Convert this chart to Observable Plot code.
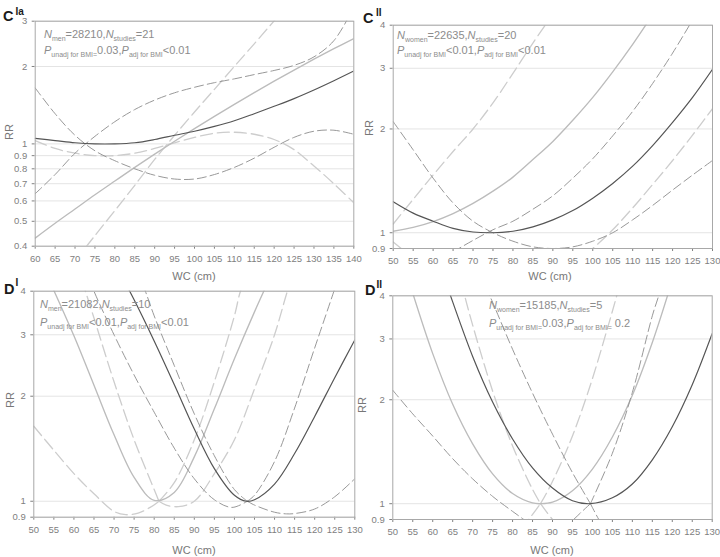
<!DOCTYPE html>
<html><head><meta charset="utf-8">
<script src="https://cdn.jsdelivr.net/npm/d3@7"></script>
<script src="https://cdn.jsdelivr.net/npm/@observablehq/plot@0.6"></script>
<style>
html,body{margin:0;padding:0;background:#fff;}
#root{position:relative;width:720px;height:557px;overflow:hidden;font-family:"Liberation Sans",Arial,sans-serif;background:#fff;}
.big{position:absolute;font-weight:bold;font-size:14.5px;line-height:14px;color:#1a1a1a;}
.sup{position:absolute;font-weight:bold;font-size:10px;line-height:10px;color:#1a1a1a;}
.ann{position:absolute;font-size:11px;line-height:11px;color:#8c8c8c;white-space:nowrap;}
.ann sub{font-size:7px;vertical-align:0;position:relative;top:3px;}
.ax{position:absolute;font-size:11px;line-height:11px;color:#777;font-weight:normal;white-space:nowrap;transform:translate(-50%,-50%);}
.ax.rr{transform:translate(-50%,-50%) rotate(-90deg);}
</style></head><body><div id="root"></div>
<script>
// ---------- tick labels ----------
const cIa_xticks = [60,65,70,75,80,85,90,95,100,105,110,115,120,125,130,135,140];
const cIa_yticks = [0.4,0.5,0.6,0.7,0.8,0.9,1,2,3];
const wc_xticks = [50,55,60,65,70,75,80,85,90,95,100,105,110,115,120,125,130];
const rr_yticks = [0.9,1,2,3,4];

// ---------- Panel C Ia (men) ----------
const cIa_wc = [60,65,70,75,80,85,90,95,100,105,110,115,120,125,130,135,140];
const cIa_adj = [1.05,1.03,1.01,1.0,1.0,1.01,1.04,1.08,1.12,1.17,1.23,1.31,1.40,1.50,1.62,1.76,1.92];
const cIa_adjCI1 = [0.64,0.76,0.92,1.07,1.22,1.36,1.48,1.58,1.66,1.73,1.79,1.86,1.93,2.02,2.18,2.52,3.4];
const cIa_adjCI2 = [1.65,1.31,1.08,0.94,0.86,0.80,0.755,0.73,0.73,0.76,0.81,0.88,0.97,1.06,1.12,1.13,1.09];
const cIa_unadj = [0.430,0.491,0.558,0.634,0.717,0.810,0.912,1.024,1.146,1.280,1.425,1.583,1.754,1.937,2.135,2.345,2.570];
const cIa_unadjCI2 = [1.03,0.96,0.92,0.90,0.90,0.92,0.96,1.01,1.06,1.10,1.11,1.09,1.04,0.95,0.82,0.70,0.59];
const cIa_wcSteep = [70,75,80,85,90,95,100,105,110,115,120,125];
const cIa_unadjCI1 = [0.35,0.44,0.55,0.69,0.87,1.08,1.33,1.63,2.0,2.45,3.01,3.7];

// ---------- Panel C II (women) ----------
const cII_wc = [50,55,60,65,70,75,80,85,90,95,100,105,110,115,120,125,130];
const cII_adj = [1.23,1.14,1.08,1.03,1.005,1.0,1.01,1.04,1.09,1.16,1.26,1.39,1.56,1.79,2.09,2.47,2.98];
const cII_adjCI1 = [2.1,1.74,1.44,1.22,1.08,1.0,0.945,0.91,0.9,0.91,0.945,1.0,1.09,1.2,1.33,1.47,1.62];
const cII_wcCI2 = [65,70,75,80,85,90,95,100,105,110,115,120,125];
const cII_adjCI2 = [0.88,0.95,1.02,1.08,1.17,1.28,1.44,1.64,1.91,2.25,2.71,3.32,4.14];
const cII_wcUn = [50,55,60,65,70,75,80,85,90,95,100,105,110,115];
const cII_unadj = [1.01,1.036,1.077,1.136,1.216,1.32,1.45,1.63,1.84,2.12,2.47,2.93,3.52,4.29];
const cII_wcUnCI1 = [50,55,60,65,70,75,80,85,90];
const cII_unadjCI1 = [1.06,1.25,1.47,1.72,2.0,2.38,2.9,3.55,4.3];
const cII_wcUnCI2 = [50,52,54,76,98,100,105,110,115,120,125,130];
const cII_unadjCI2 = [0.94,0.9,0.86,null,0.86,0.9,1.02,1.18,1.38,1.62,1.92,2.29];

// ---------- Panel D I (men) ----------
const dI_wcAdj = [70,75,80,85,90,95,100,103,105,110,115,120,125,130];
const dI_adj = [4.86,3.78,2.88,2.16,1.61,1.24,1.04,1.0,1.01,1.12,1.37,1.75,2.26,2.9];
const dI_wcUn = [55,60,65,70,75,80,85,90,95,100,105,108];
const dI_unadj = [4.02,2.98,2.15,1.55,1.17,1.006,1.06,1.34,1.84,2.56,3.49,4.16];
const dI_unHiL_wc = [62,65,70,75,80,81.2];
const dI_unHiL = [4.3,3.35,2.2,1.5,1.08,1.0];
const dI_unLoR_wc = [81.2,83,86,90,95,100,105,110,113.2,115];
const dI_unLoR = [1.0,0.975,0.965,1.0,1.2,1.5,2.1,3.0,4.0,4.6];
const dI_unLoL_wc = [50,55,60,65,70,72.9,76,79,81.2];
const dI_unLoL = [1.64,1.40,1.2,1.05,0.935,0.915,0.925,0.96,1.0];
const dI_unHiR_wc = [81.2,85,90,95,100,101.5,103];
const dI_unHiR = [1.0,1.13,1.5,2.2,3.4,4.0,4.4];
const dI_adjLoL_wc = [64,65,70,75,80,85,90,95,99.4,103.2];
const dI_adjLoL = [4.3,4.0,3.0,2.3,1.8,1.42,1.16,1.01,0.96,1.0];
const dI_adjHiR_wc = [103.2,105,110,115,120,124.8,126];
const dI_adjHiR = [1.0,1.04,1.3,1.85,2.75,4.0,4.4];
const dI_adjHiL_wc = [76,77.8,80,85,90,95,100,103.2];
const dI_adjHiL = [4.5,4.0,3.4,2.45,1.78,1.35,1.08,1.0];
const dI_adjLoR_wc = [103.2,105,110,113,115,120,125,130];
const dI_adjLoR = [1.0,0.975,0.93,0.92,0.922,0.95,1.03,1.16];

// ---------- Panel D II (women) ----------
const dII_wcUn = [55,60,65,70,75,80,85,87,90,95,100,105,110,115,119];
const dII_unadj = [4.07,2.72,1.94,1.49,1.22,1.07,1.005,1.0,1.01,1.09,1.26,1.56,2.06,2.93,4.07];
const dII_wcAdj = [64,65,70,75,80,85,90,95,99.5,105,110,115,120,125,130];
const dII_adj = [4.15,3.84,2.67,1.97,1.54,1.27,1.11,1.02,1.0,1.04,1.14,1.34,1.67,2.21,3.11];
const dII_unHiL_wc = [66,68,70,75,80,85,87];
const dII_unHiL = [4.9,4.0,3.29,2.12,1.47,1.1,1.0];
const dII_unHiR_wc = [87,89,94,99,104,106.2,108];
const dII_unHiR = [1.0,1.1,1.47,2.12,3.29,4.05,4.9];
const dII_unLoL_wc = [82,84,87];
const dII_unLoL = [0.85,0.9,1.0];
const dII_unLoR_wc = [87,90,92];
const dII_unLoR = [1.0,0.9,0.85];
const dII_adjHiL_wc = [72,75,80,85,90,95,99.5];
const dII_adjHiL = [4.6,3.83,2.8,2.09,1.59,1.23,1.0];
const dII_adjHiR_wc = [99.5,105,110,115,117,118];
const dII_adjHiR = [1.0,1.4,2.1,3.5,4.17,5.0];
const dII_adjLoL_wc = [50,55,60,65,70,75,80,82.8,85,89,93,95.3,97,99.5];
const dII_adjLoL = [2.13,1.82,1.57,1.35,1.18,1.05,0.95,0.9,0.86,null,0.85,0.9,0.94,1.0];
const dII_adjLoR_wc = [99.5,101.6,103];
const dII_adjLoR = [1.0,0.9,0.85];

// ---------- styles ----------
const STY = {
  ld: {stroke:"#cdcdcd", strokeWidth:1.3, strokeDasharray:"12,5"},
  ls: {stroke:"#bcbcbc", strokeWidth:1.35},
  md: {stroke:"#929292", strokeWidth:0.95, strokeDasharray:"9,4"},
  ds: {stroke:"#555555", strokeWidth:1.2}
};
const ORDER = ["ld","ls","md","ds"];

const panels = [
  {left:0, top:0, w:370, h:285, ml:34.7, mr:16.7, mt:20.7, mb:39.3, xd:[60,140], yd:[0.4,3], xt:cIa_xticks, yt:cIa_yticks,
   curves:[[cIa_wc,cIa_adj,"ds"],[cIa_wc,cIa_adjCI1,"md"],[cIa_wc,cIa_adjCI2,"md"],[cIa_wc,cIa_unadj,"ls"],[cIa_wc,cIa_unadjCI2,"ld"],[cIa_wcSteep,cIa_unadjCI1,"ld"]]},
  {left:360, top:0, w:360, h:285, ml:32.7, mr:8, mt:24.7, mb:37, xd:[50,130], yd:[0.9,4], xt:wc_xticks, yt:rr_yticks,
   curves:[[cII_wc,cII_adj,"ds"],[cII_wc,cII_adjCI1,"md"],[cII_wcCI2,cII_adjCI2,"md"],[cII_wcUn,cII_unadj,"ls"],[cII_wcUnCI1,cII_unadjCI1,"ld"],[cII_wcUnCI2,cII_unadjCI2,"ld"]]},
  {left:0, top:280, w:370, h:277, ml:33.3, mr:15.7, mt:10.7, mb:40.3, xd:[50,130], yd:[0.9,4], xt:wc_xticks, yt:rr_yticks,
   curves:[[dI_wcAdj,dI_adj,"ds"],[dI_wcUn,dI_unadj,"ls"],[dI_unHiL_wc,dI_unHiL,"ld"],[dI_unLoR_wc,dI_unLoR,"ld"],[dI_unLoL_wc,dI_unLoL,"ld"],[dI_unHiR_wc,dI_unHiR,"ld"],
           [dI_adjLoL_wc,dI_adjLoL,"md"],[dI_adjHiR_wc,dI_adjHiR,"md"],[dI_adjHiL_wc,dI_adjHiL,"md"],[dI_adjLoR_wc,dI_adjLoR,"md"]]},
  {left:360, top:280, w:360, h:277, ml:32.3, mr:8.3, mt:15.3, mb:38, xd:[50,130], yd:[0.9,4], xt:wc_xticks, yt:rr_yticks,
   curves:[[dII_wcAdj,dII_adj,"ds"],[dII_wcUn,dII_unadj,"ls"],[dII_unHiL_wc,dII_unHiL,"ld"],[dII_unHiR_wc,dII_unHiR,"ld"],[dII_unLoL_wc,dII_unLoL,"ld"],[dII_unLoR_wc,dII_unLoR,"ld"],
           [dII_adjHiL_wc,dII_adjHiL,"md"],[dII_adjHiR_wc,dII_adjHiR,"md"],[dII_adjLoL_wc,dII_adjLoL,"md"],[dII_adjLoR_wc,dII_adjLoR,"md"]]}
];

const root = document.getElementById("root");
for (const p of panels) {
  const lines = [];
  for (const k of ORDER) {
    for (const [xs, ys, s] of p.curves) {
      if (s !== k) continue;
      lines.push(Plot.line(xs, {x: xs, y: ys, curve: "catmull-rom", clip: true, ...STY[s]}));
    }
  }
  const svg = Plot.plot({
    width: p.w, height: p.h,
    marginLeft: p.ml, marginRight: p.mr, marginTop: p.mt, marginBottom: p.mb,
    style: {background: "transparent", overflow: "visible", fontFamily: "'Liberation Sans Narrow','Liberation Sans',Arial,sans-serif", fontSize: "9.5px", color: "#808080"},
    x: {domain: p.xd, ticks: p.xt, tickFormat: d => String(d), tickSize: 3, tickPadding: 6, label: null},
    y: {type: "log", domain: p.yd, ticks: p.yt, tickFormat: d => String(d), tickSize: 3, tickPadding: 5, label: null},
    marks: [
      Plot.ruleY(p.yt, {stroke: "#e4e4e4", strokeWidth: 1}),
      ...lines,
      Plot.frame({stroke: "#a8a8a8"})
    ]
  });
  svg.style.position = "absolute";
  svg.style.left = p.left + "px";
  svg.style.top = p.top + "px";
  root.appendChild(svg);
}

function add(cls, html, left, top) {
  const d = document.createElement("div");
  d.className = cls; d.innerHTML = html;
  d.style.left = left + "px"; d.style.top = top + "px";
  root.appendChild(d);
}
// panel letters
add("big", "C", 3, 8.9);   add("sup", "Ia", 15.5, 6.5);
add("big", "C", 363, 10.9); add("sup", "II", 376, 7.5);
add("big", "D", 4, 281.5); add("sup", "I", 15.5, 278.2);
add("big", "D", 365, 283.2); add("sup", "II", 376.5, 279.8);
// annotations
add("ann", "<i>N</i><sub>men</sub>=28210,<i>N</i><sub>studies</sub>=21", 44, 29);
add("ann", "<i>P</i><sub>unadj for BMI=</sub>0.03,<i>P</i><sub>adj for BMI</sub>&lt;0.01", 44, 45);
add("ann", "<i>N</i><sub>women</sub>=22635,<i>N</i><sub>studies</sub>=20", 397, 30);
add("ann", "<i>P</i><sub>unadj for BMI</sub>&lt;0.01,<i>P</i><sub>adj for BMI</sub>&lt;0.01", 397, 45);
add("ann", "<i>N</i><sub>men</sub>=21082,<i>N</i><sub>studies</sub>=10", 40, 299);
add("ann", "<i>P</i><sub>unadj for BMI</sub>&lt;0.01,<i>P</i><sub>adj for BMI</sub>&lt;0.01", 40, 316.7);
add("ann", "<i>N</i><sub>women</sub>=15185,<i>N</i><sub>studies</sub>=5", 489, 300);
add("ann", "<i>P</i><sub>unadj for BMI=</sub>0.03,<i>P</i><sub>adj for BMI=</sub> 0.2", 489, 317.5);
// axis labels
add("ax", "WC (cm)", 194, 276); add("ax", "WC (cm)", 550, 276);
add("ax", "WC (cm)", 194, 550); add("ax", "WC (cm)", 552, 550);
add("ax rr", "RR", 9, 132); add("ax rr", "RR", 369, 128);
add("ax rr", "RR", 10, 400); add("ax rr", "RR", 362, 405);
</script></body></html>
